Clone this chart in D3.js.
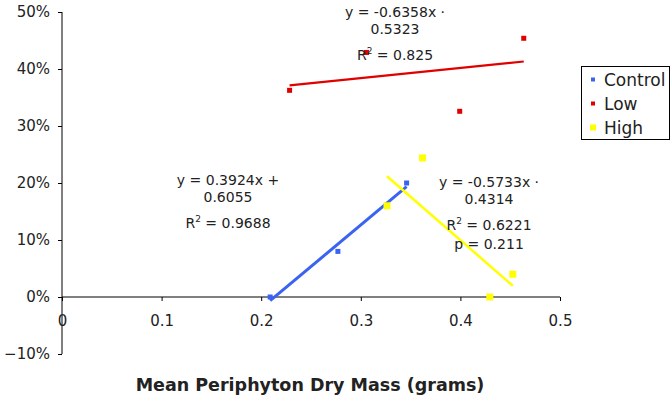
<!DOCTYPE html>
<html><head><meta charset="utf-8">
<script src="https://cdn.jsdelivr.net/npm/d3@7"></script>
<style>body{margin:0;background:#fff}svg{display:block}text{font-family:"DejaVu Sans",Verdana,sans-serif;fill:#222}</style>
</head><body>
<script>
const controlX = [0.209, 0.277, 0.346];
const controlY = [0.0, 0.08, 0.20];
const lowX = [0.2285, 0.3058, 0.3993, 0.4636];
const lowY = [0.3626, 0.429, 0.3258, 0.4539];
const highX = [0.3263, 0.362, 0.4295, 0.4526];
const highY = [0.16, 0.244, 0.0, 0.04];
const seriesNames = ["Control", "Low", "High"];
const seriesColors = ["#3a63f2", "#e00000", "#ffff00"];
const xTicks = [0, 0.1, 0.2, 0.3, 0.4, 0.5];
const yTicks = [-0.1, 0, 0.1, 0.2, 0.3, 0.4, 0.5];
const annotations = [
  {lines: ["y = -0.6358x ·", "0.5323"], r2: "0.825", p: null, cx: 395, y0: 17},
  {lines: ["y = 0.3924x +", "0.6055"], r2: "0.9688", p: null, cx: 228, y0: 185},
  {lines: ["y = -0.5733x ·", "0.4314"], r2: "0.6221", p: "p = 0.211", cx: 489, y0: 187}
];
const xTitle = "Mean Periphyton Dry Mass (grams)";

const W = 671, H = 400;
const svg = d3.select("body").append("svg").attr("width", W).attr("height", H);
const x = d3.scaleLinear().domain([0, 0.5]).range([62, 560]);
const y = d3.scaleLinear().domain([-0.1, 0.5]).range([354, 12]);

// axes
const yAxis = svg.append("g").attr("transform", `translate(${x(0)},0)`)
  .call(d3.axisLeft(y).tickValues(yTicks).tickFormat(d3.format(".0%")).tickSize(4).tickPadding(8));
const xAxis = svg.append("g").attr("transform", `translate(0,${y(0)})`)
  .call(d3.axisBottom(x).tickValues(xTicks).tickFormat(d => d === 0 ? "0" : d3.format(".1f")(d)).tickSize(4).tickPadding(14));
[yAxis, xAxis].forEach(a => {
  a.selectAll("path,line").attr("stroke", "#000").attr("stroke-width", 1);
  a.selectAll("text").style("font-size", "15px").style("font-family", "DejaVu Sans, Verdana, sans-serif").attr("fill", "#222");
});
xAxis.select(".domain").attr("d", `M${x(0)},0H${x(0.5)}`);
yAxis.select(".domain").attr("d", `M0,${y(0.5)}V${y(-0.1)}`);

// regression
function fit(xs, ys) {
  const mx = d3.mean(xs), my = d3.mean(ys);
  let sxy = 0, sxx = 0;
  xs.forEach((v, i) => { sxy += (v - mx) * (ys[i] - my); sxx += (v - mx) ** 2; });
  const m = sxy / sxx, b = my - m * mx;
  const x0 = d3.min(xs), x1 = d3.max(xs);
  return [[x0, m * x0 + b], [x1, m * x1 + b]];
}
const data = [[controlX, controlY], [lowX, lowY], [highX, highY]];
const lineW = [3, 2.2, 2.5];
const mSize = [5, 5, 7];
const line = d3.line().x(d => x(d[0])).y(d => y(d[1]));
data.forEach(([xs, ys], i) => {
  svg.append("path").attr("d", line(fit(xs, ys))).attr("stroke", seriesColors[i])
    .attr("stroke-width", lineW[i]).attr("fill", "none");
});
data.forEach(([xs, ys], i) => {
  svg.append("g").selectAll("rect").data(xs.map((v, j) => [v, ys[j]])).join("rect")
    .attr("x", d => x(d[0]) - mSize[i] / 2).attr("y", d => y(d[1]) - mSize[i] / 2)
    .attr("width", mSize[i]).attr("height", mSize[i]).attr("fill", seriesColors[i]);
});

// annotations
annotations.forEach(a => {
  const g = svg.append("g").attr("text-anchor", "middle").style("font-size", "14px");
  g.append("text").attr("x", a.cx).attr("y", a.y0).text(a.lines[0]);
  g.append("text").attr("x", a.cx).attr("y", a.y0 + 17).text(a.lines[1]);
  const t = g.append("text").attr("x", a.cx).attr("y", a.y0 + 43);
  t.append("tspan").text("R");
  t.append("tspan").attr("dy", -6).style("font-size", "9px").text("2");
  t.append("tspan").attr("dy", 6).text(" = " + a.r2);
  if (a.p) g.append("text").attr("x", a.cx).attr("y", a.y0 + 62).text(a.p);
});

// legend
const lg = svg.append("g");
lg.append("rect").attr("x", 581.5).attr("y", 66.5).attr("width", 88).attr("height", 73)
  .attr("fill", "#fff").attr("stroke", "#000");
seriesNames.forEach((n, i) => {
  const cy = 79.5 + i * 24;
  const s = i === 2 ? 6 : 4;
  lg.append("rect").attr("x", 593 - s / 2).attr("y", cy - s / 2).attr("width", s).attr("height", s).attr("fill", seriesColors[i]);
  lg.append("text").attr("x", 604).attr("y", cy + 6).style("font-size", "17px").text(n);
});

// x title
svg.append("text").attr("x", 310).attr("y", 391).attr("text-anchor", "middle")
  .style("font-size", "17.5px").style("font-weight", "bold").attr("fill", "#000").text(xTitle);
</script>
</body></html>
